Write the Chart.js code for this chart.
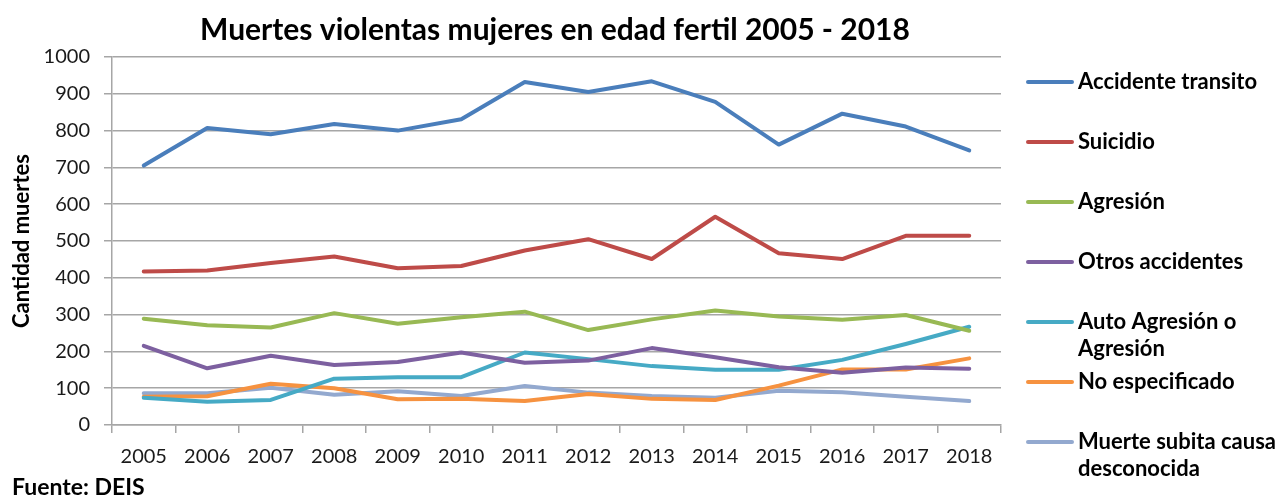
<!DOCTYPE html>
<html>
<head>
<meta charset="utf-8">
<script src="https://cdn.jsdelivr.net/npm/chart.js@4"></script>
<style>
  html, body { margin: 0; padding: 0; background: #fff; }
  #wrap { width: 1282px; height: 499px; }
</style>
</head>
<body>
<div id="wrap"><canvas id="chart" width="1282" height="499"></canvas></div>
<script>
const years = ['2005','2006','2007','2008','2009','2010','2011','2012','2013','2014','2015','2016','2017','2018']

const accidenteTransito = [705, 807, 790, 818, 800, 831, 932, 905, 934, 878, 762, 846, 811, 746]
const suicidio = [417, 420, 440, 458, 426, 432, 474, 505, 451, 566, 467, 451, 514, 514]
const agresion = [289, 271, 265, 304, 275, 293, 308, 258, 287, 311, 295, 286, 299, 256]
const otrosAccidentes = [215, 154, 188, 163, 171, 197, 169, 175, 209, 184, 157, 142, 156, 153]
const autoAgresion = [74, 63, 68, 126, 130, 130, 197, 179, 160, 150, 150, 177, 220, 267]
const noEspecificado = [77, 78, 112, 100, 70, 71, 65, 84, 71, 68, 107, 151, 151, 181]
const muerteSubita = [86, 86, 101, 82, 92, 79, 106, 88, 79, 74, 93, 89, 77, 65]

const yTicks = {min: 0, max: 1000, step: 100}

const FONT = 'Lato'
const gridColor = '#a6a6a6'

// legend + title + source, drawn by hand to get Excel-like placement
const decorations = {
    id: 'decorations',
    afterDraw(chart) {
        const ctx = chart.ctx
        ctx.save()
        ctx.fillStyle = '#000'
        ctx.textBaseline = 'middle'

        ctx.font = `bold 30px ${FONT}`
        ctx.textAlign = 'center'
        ctx.fillText('Muertes violentas mujeres en edad fertil 2005 - 2018', 555, 30)

        ctx.font = `bold 23px ${FONT}`
        ctx.textAlign = 'left'
        ctx.fillText('Fuente: DEIS', 12, 488)

        ctx.font = `bold 22px ${FONT}`
        chart.data.datasets.forEach((ds, i) => {
            const y = 82 + i * 60
            ctx.strokeStyle = ds.borderColor
            ctx.lineWidth = 4
            ctx.lineCap = 'round'
            ctx.beginPath()
            ctx.moveTo(1028, y)
            ctx.lineTo(1072, y)
            ctx.stroke()
            ds.label.split('\n').forEach((line, j) => {
                ctx.fillText(line, 1078, y + j * 27)
            })
        })
        ctx.restore()
    }
}

const line = (label, data, color) => ({
    label, data,
    borderColor: color,
    backgroundColor: color,
    borderWidth: 4,
    pointRadius: 0,
    fill: false,
    tension: 0,
    borderCapStyle: 'round',
    borderJoinStyle: 'round'
})

new Chart(document.getElementById('chart').getContext('2d'), {
    type: 'line',
    data: {
        labels: years,
        datasets: [
            line('Accidente transito', accidenteTransito, '#4a7ebb'),
            line('Suicidio', suicidio, '#be4b48'),
            line('Agresión', agresion, '#98b954'),
            line('Otros accidentes', otrosAccidentes, '#7d60a0'),
            line('Auto Agresión o\nAgresión', autoAgresion, '#46aac5'),
            line('No especificado', noEspecificado, '#f69240'),
            line('Muerte subita causa\ndesconocida', muerteSubita, '#93a9cf')
        ]
    },
    options: {
        responsive: false,
        animation: false,
        layout: {
            padding: {top: 57, right: 281, bottom: 29, left: 0}
        },
        plugins: {
            legend: {display: false},
            title: {display: false},
            tooltip: {enabled: false}
        },
        scales: {
            y: {
                min: yTicks.min,
                max: yTicks.max,
                afterFit: (scale) => { scale.width = 112 },
                ticks: {
                    stepSize: yTicks.step,
                    padding: 14,
                    color: '#1a1a1a',
                    font: {family: FONT, size: 20},
                    callback: (v) => String(v)
                },
                grid: {
                    color: gridColor,
                    lineWidth: 1.5,
                    tickLength: 8
                },
                border: {color: gridColor, width: 1.5},
                title: {
                    display: true,
                    text: 'Cantidad muertes',
                    color: '#000',
                    font: {family: FONT, size: 22, weight: 'bold'},
                    padding: {top: 9, bottom: 0}
                }
            },
            x: {
                offset: true,
                afterFit: (scale) => { scale.height = 45 },
                ticks: {
                    padding: 12,
                    maxRotation: 0,
                    color: '#1a1a1a',
                    font: {family: FONT, size: 20}
                },
                grid: {
                    offset: true,
                    drawOnChartArea: false,
                    color: gridColor,
                    lineWidth: 1.5,
                    tickLength: 8
                },
                border: {color: gridColor, width: 1.5}
            }
        }
    },
    plugins: [decorations]
})
</script>
</body>
</html>
